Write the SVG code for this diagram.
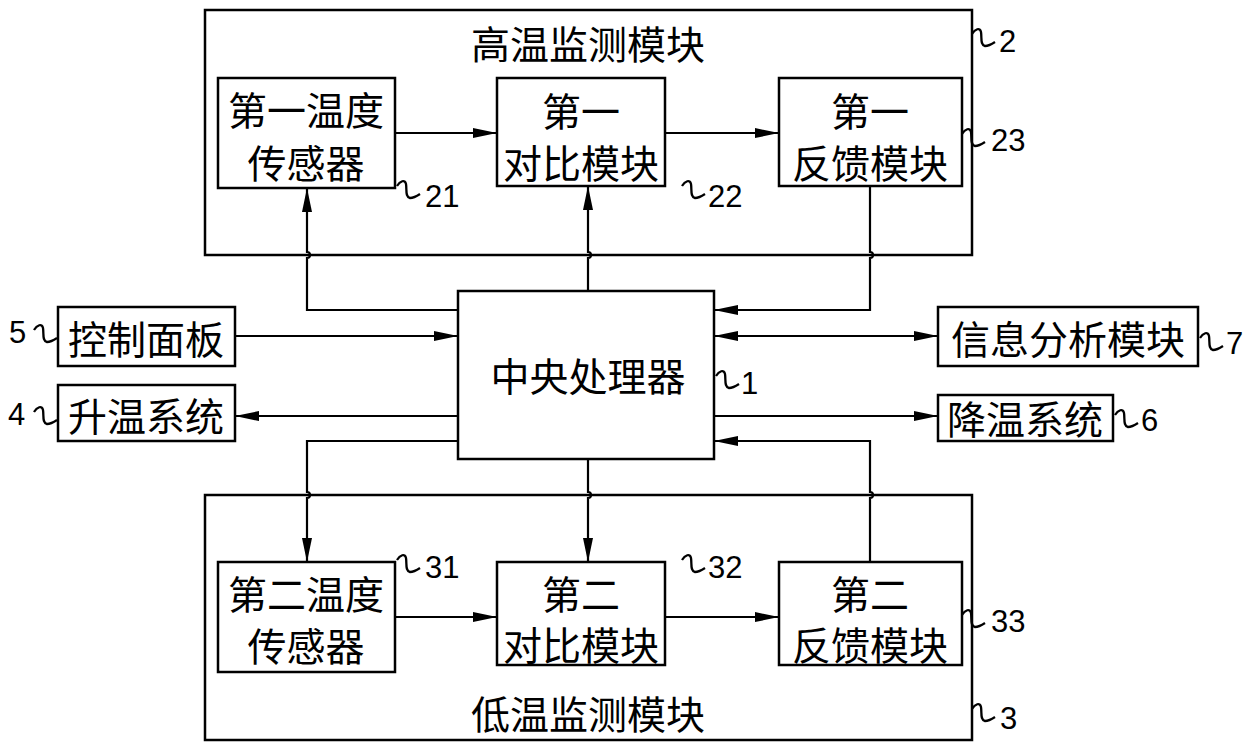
<svg xmlns="http://www.w3.org/2000/svg" xmlns:xlink="http://www.w3.org/1999/xlink" width="1256" height="752" viewBox="0 0 1256 752">
<style>
.box{fill:none;stroke:#000;stroke-width:2.5}
.node-bg{fill:#fff;stroke:#000;stroke-width:2.5}
.t{font-family:"Noto Sans CJK SC","Noto Sans CJK JP",sans-serif;font-size:39px;fill:#000;text-anchor:middle;dominant-baseline:central}
.n{font-family:"Liberation Sans","DejaVu Sans",sans-serif;font-size:31px;fill:#000}
.ln{fill:none;stroke:#000;stroke-width:2.2}
.ld{fill:none;stroke:#000;stroke-width:2.3}
</style>
<defs>
<marker id="a" viewBox="0 0 24 10" refX="24" refY="5" markerWidth="24" markerHeight="10" markerUnits="userSpaceOnUse" orient="auto-start-reverse"><path d="M0,0 L24,5 L0,10 z" fill="#000"/></marker>
<path id="ldr" d="M0,0 c3,-5 8,-7 9,-2 c1,6 -1,13 4,14 c3,0 7,-2 10,-4"/>
</defs>
<rect width="1256" height="752" fill="#fff"/>

<g id="high-temp-module">
<rect class="box" x="205" y="10" width="767" height="245"/>
<text class="t" x="588" y="42">高温监测模块</text>
</g>
<g id="low-temp-module">
<rect class="box" x="205" y="495" width="767" height="245"/>
<text class="t" x="588" y="712">低温监测模块</text>
</g>

<g id="connectors">
<path class="ln" d="M458,310 H307 V258 a3,3 0 0 0 0,-6 V188" marker-end="url(#a)"/>
<path class="ln" d="M588,291 V258 a3,3 0 0 0 0,-6 V186" marker-end="url(#a)"/>
<path class="ln" d="M870,186 V252 a3,3 0 0 1 0,6 V310 H714" marker-end="url(#a)"/>
<path class="ln" d="M235,336 H458" marker-end="url(#a)"/>
<path class="ln" d="M714,336 H938" marker-start="url(#a)" marker-end="url(#a)"/>
<path class="ln" d="M458,416 H235" marker-end="url(#a)"/>
<path class="ln" d="M714,416 H938" marker-end="url(#a)"/>
<path class="ln" d="M458,441 H307 V492 a3,3 0 0 1 0,6 V562" marker-end="url(#a)"/>
<path class="ln" d="M588,459 V492 a3,3 0 0 1 0,6 V562" marker-end="url(#a)"/>
<path class="ln" d="M870,562 V498 a3,3 0 0 0 0,-6 V441 H714" marker-end="url(#a)"/>
<path class="ln" d="M395,133 H497" marker-end="url(#a)"/>
<path class="ln" d="M665,133 H779" marker-end="url(#a)"/>
<path class="ln" d="M395,617 H497" marker-end="url(#a)"/>
<path class="ln" d="M665,617 H779" marker-end="url(#a)"/>
</g>

<g id="n21">
<rect class="node-bg" x="218" y="78" width="177" height="110"/>
<text class="t" x="306" y="108">第一温度</text>
<text class="t" x="306" y="161">传感器</text>
</g>
<g id="n22">
<rect class="node-bg" x="497" y="78" width="168" height="108"/>
<text class="t" x="581" y="109">第一</text>
<text class="t" x="581" y="161">对比模块</text>
</g>
<g id="n23">
<rect class="node-bg" x="779" y="78" width="183" height="108"/>
<text class="t" x="870" y="109">第一</text>
<text class="t" x="870" y="161">反馈模块</text>
</g>
<g id="n1">
<rect class="node-bg" x="458" y="291" width="256" height="168"/>
<text class="t" x="588" y="374">中央处理器</text>
</g>
<g id="n5">
<rect class="node-bg" x="58" y="307" width="177" height="59"/>
<text class="t" x="146" y="337">控制面板</text>
</g>
<g id="n4">
<rect class="node-bg" x="58" y="385" width="177" height="56"/>
<text class="t" x="146" y="414">升温系统</text>
</g>
<g id="n7">
<rect class="node-bg" x="938" y="307" width="260" height="59"/>
<text class="t" x="1068" y="337">信息分析模块</text>
</g>
<g id="n6">
<rect class="node-bg" x="938" y="395" width="175" height="46"/>
<text class="t" x="1025" y="417">降温系统</text>
</g>
<g id="n31">
<rect class="node-bg" x="218" y="562" width="177" height="110"/>
<text class="t" x="306" y="592">第二温度</text>
<text class="t" x="306" y="644">传感器</text>
</g>
<g id="n32">
<rect class="node-bg" x="497" y="562" width="168" height="103"/>
<text class="t" x="581" y="592">第二</text>
<text class="t" x="581" y="643">对比模块</text>
</g>
<g id="n33">
<rect class="node-bg" x="779" y="562" width="183" height="103"/>
<text class="t" x="870" y="592">第二</text>
<text class="t" x="870" y="643">反馈模块</text>
</g>

<g id="labels">
<use xlink:href="#ldr" class="ld" x="972" y="34"/><text class="n" x="999" y="52">2</text>
<use xlink:href="#ldr" class="ld" x="962" y="134"/><text class="n" x="991" y="151">23</text>
<use xlink:href="#ldr" class="ld" x="397" y="186"/><text class="n" x="425" y="207">21</text>
<use xlink:href="#ldr" class="ld" x="682" y="186"/><text class="n" x="708" y="207">22</text>
<use xlink:href="#ldr" class="ld" x="716" y="376"/><text class="n" x="741" y="394">1</text>
<use xlink:href="#ldr" class="ld" x="1200" y="338"/><text class="n" x="1226" y="354">7</text>
<use xlink:href="#ldr" class="ld" x="1115" y="415"/><text class="n" x="1141" y="431">6</text>
<use xlink:href="#ldr" class="ld" x="34" y="330"/><text class="n" x="9" y="343">5</text>
<use xlink:href="#ldr" class="ld" x="34" y="412"/><text class="n" x="8" y="425">4</text>
<use xlink:href="#ldr" class="ld" x="397" y="560"/><text class="n" x="425" y="578">31</text>
<use xlink:href="#ldr" class="ld" x="682" y="560"/><text class="n" x="708" y="578">32</text>
<use xlink:href="#ldr" class="ld" x="962" y="615"/><text class="n" x="991" y="632">33</text>
<use xlink:href="#ldr" class="ld" x="972" y="709"/><text class="n" x="1000" y="729">3</text>
</g>
</svg>
